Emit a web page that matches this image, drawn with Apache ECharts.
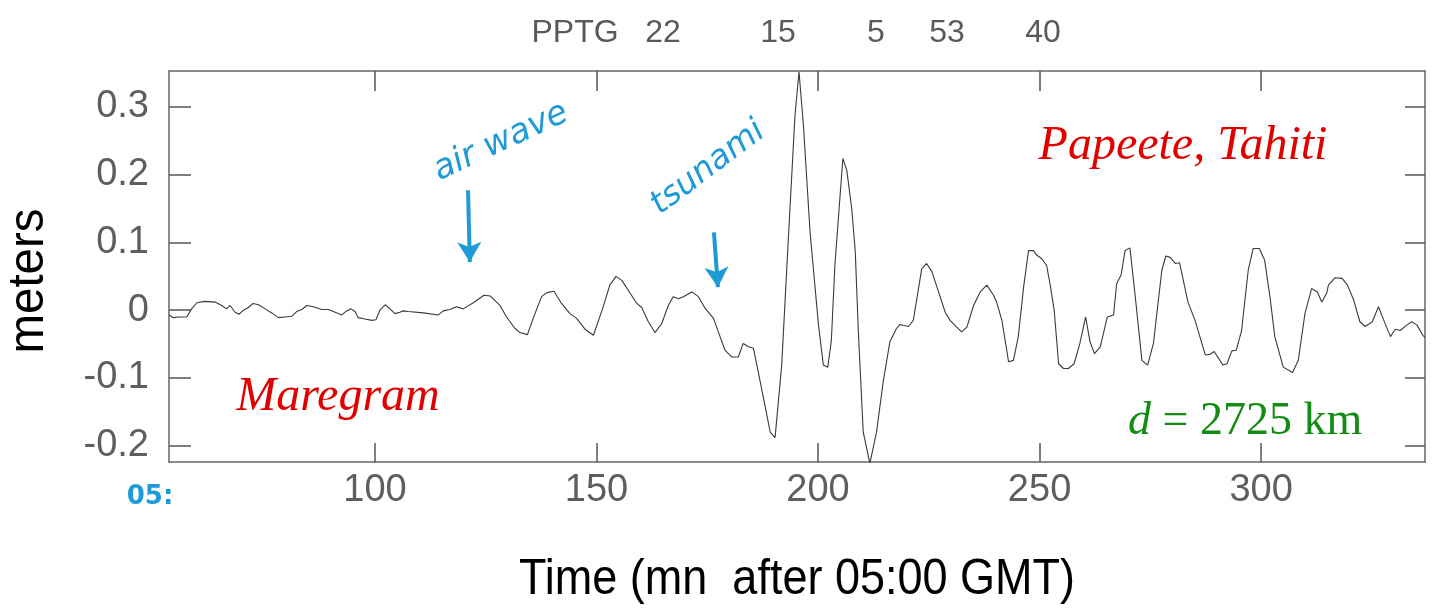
<!DOCTYPE html>
<html>
<head>
<meta charset="utf-8">
<script src="https://cdn.jsdelivr.net/npm/echarts@6/dist/echarts.min.js"></script>
<style>
html,body{margin:0;padding:0;background:#fff;}
#chart{width:1435px;height:608px;}
</style>
</head>
<body>
<div id="chart"></div>
<script>
// Time (minutes after 05:00 GMT)
const timeMin = [
53.5,54.5,55.6,57.5,58.6,59.8,61.6,63.9,65.4,66.5,67.3,68.4,69.3,70.3,71.4,72.5,73.7,75.2,76.7,78.2,
79.7,81.2,82.3,83.5,84.6,86.1,88.0,89.5,91.0,92.5,93.6,94.6,95.5,96.2,97.7,99.3,100.2,101.1,102.3,103.4,
104.5,105.6,106.4,107.5,110.9,114.3,115.4,116.9,118.4,119.9,122.2,124.6,126.0,128.2,129.7,131.6,132.7,134.4,135.7,137.6,
138.8,140.4,142.1,144.0,145.5,147.4,149.3,151.5,153.0,154.4,155.7,157.6,159.1,160.2,161.7,163.2,164.7,166.2,167.3,168.5,
169.6,171.5,173.0,174.5,176.4,177.5,179.0,180.5,182.0,183.1,184.3,185.4,186.5,188.0,189.2,190.3,191.8,193.3,194.8,195.7,
196.7,198.2,200.1,201.2,202.2,203.0,203.8,205.6,206.5,207.6,208.4,209.1,210.2,211.7,213.2,214.7,216.2,217.7,218.5,220.4,
221.5,223.4,224.5,225.7,227.2,228.7,229.8,231.3,232.4,233.6,235.1,236.6,238.1,239.6,240.3,241.5,243.0,244.1,245.2,246.4,
247.5,248.6,249.4,250.5,251.6,252.4,253.3,254.3,255.4,256.5,257.8,259.1,260.4,261.4,262.4,263.7,265.3,266.7,267.4,268.4,
269.3,270.4,271.6,273.1,274.4,275.7,277.6,278.5,279.5,280.6,281.6,283.5,285.1,287.4,288.5,289.4,291.4,292.3,293.4,294.4,
295.6,297.1,298.2,299.6,300.8,302.0,303.1,305.0,307.1,308.4,309.9,311.4,312.7,313.7,314.8,315.2,316.7,318.3,319.5,320.9,
322.3,323.5,325.1,326.5,327.7,329.2,330.3,331.4,332.9,334.0,335.2,336.5,337.0
];
// Sea level (meters)
const seaLevel = [
-0.007,-0.011,-0.010,-0.010,0.002,0.011,0.013,0.012,0.007,0.002,0.007,-0.003,-0.006,0.000,0.004,0.010,0.008,0.002,-0.004,-0.011,
-0.010,-0.009,-0.002,0.001,0.007,0.005,0.001,0.001,-0.003,-0.007,-0.001,0.002,-0.002,-0.011,-0.013,-0.015,-0.014,0.000,0.008,0.002,
-0.005,-0.003,-0.001,-0.002,-0.004,-0.007,-0.001,0.001,0.005,0.002,0.011,0.022,0.021,0.007,-0.010,-0.027,-0.033,-0.036,-0.012,0.020,
0.026,0.028,0.010,-0.005,-0.012,-0.028,-0.037,0.005,0.037,0.050,0.044,0.025,0.010,0.004,-0.017,-0.033,-0.020,0.007,0.020,0.017,
0.020,0.027,0.020,0.003,-0.012,-0.032,-0.059,-0.069,-0.069,-0.049,-0.054,-0.056,-0.091,-0.140,-0.180,-0.188,-0.081,0.106,0.288,0.352,
0.273,0.115,-0.022,-0.081,-0.084,-0.045,0.066,0.224,0.206,0.150,0.087,-0.032,-0.180,-0.226,-0.180,-0.106,-0.047,-0.027,-0.021,-0.024,
-0.015,0.061,0.069,0.057,0.027,-0.003,-0.015,-0.025,-0.032,-0.025,0.007,0.027,0.037,0.022,0.012,-0.015,-0.076,-0.074,-0.039,0.034,
0.088,0.088,0.081,0.076,0.066,0.037,0.000,-0.079,-0.086,-0.086,-0.079,-0.049,-0.010,-0.047,-0.064,-0.054,-0.010,-0.007,0.039,0.052,
0.088,0.092,0.020,-0.074,-0.081,-0.049,0.059,0.080,0.078,0.069,0.070,0.012,-0.015,-0.066,-0.065,-0.061,-0.081,-0.079,-0.060,-0.059,
-0.030,0.059,0.091,0.091,0.074,0.020,-0.039,-0.084,-0.092,-0.074,-0.005,0.032,0.027,0.012,0.025,0.037,0.048,0.047,0.037,0.015,
-0.017,-0.024,-0.017,0.005,-0.015,-0.039,-0.028,-0.030,-0.022,-0.017,-0.022,-0.037,-0.040
];
const xTicks = [100, 150, 200, 250, 300];
const yTicks = [-0.2, -0.1, 0, 0.1, 0.2, 0.3];
const titleTokens = ['PPTG', '22', '15', '5', '53', '40'];
const airWaveArrow = [[121.0, 0.177], [121.4, 0.071]];
const tsunamiArrow = [[176.5, 0.115], [177.4, 0.034]];

const points = timeMin.map((t, i) => [t, seaLevel[i]]);
const titleX = [575, 663, 778, 876, 947, 1043];

const chart = echarts.init(document.getElementById('chart'), null, {renderer: 'canvas'});
const frame = '#666';
const tickFont = 'Liberation Sans, Arial, sans-serif';
const blue = '#1e9ad6';
const labelGray = '#5e5e5e';

const option = {
  backgroundColor: '#ffffff',
  animation: false,
  grid: {left: 169, right: 10, top: 71, bottom: 146, containLabel: false},
  xAxis: [
    {
      type: 'value', min: 53.5, max: 337, position: 'bottom',
      axisLine: {show: true, onZero: false, lineStyle: {color: frame, width: 1.5}},
      axisTick: {show: true, inside: true, length: 19, customValues: xTicks, lineStyle: {color: '#555', width: 1.5}},
      axisLabel: {show: true, customValues: xTicks, margin: 10, color: labelGray, fontSize: 38, fontFamily: tickFont},
      splitLine: {show: false}
    },
    {
      type: 'value', min: 53.5, max: 337, position: 'top',
      axisLine: {show: true, onZero: false, lineStyle: {color: frame, width: 1.5}},
      axisTick: {show: true, inside: true, length: 20, customValues: xTicks, lineStyle: {color: '#555', width: 1.5}},
      axisLabel: {show: false},
      splitLine: {show: false}
    }
  ],
  yAxis: [
    {
      type: 'value', min: -0.224, max: 0.353, position: 'left',
      axisLine: {show: true, onZero: false, lineStyle: {color: frame, width: 1.5}},
      axisTick: {show: true, inside: true, length: 22, customValues: yTicks, lineStyle: {color: '#555', width: 1.5}},
      axisLabel: {show: true, customValues: yTicks, margin: 20, color: labelGray, fontSize: 38, fontFamily: tickFont,
        formatter: v => (Math.abs(v) < 1e-9 ? '0' : v.toFixed(1))},
      splitLine: {show: false}
    },
    {
      type: 'value', min: -0.224, max: 0.353, position: 'right',
      axisLine: {show: true, onZero: false, lineStyle: {color: frame, width: 1.5}},
      axisTick: {show: true, inside: true, length: 20, customValues: yTicks, lineStyle: {color: '#555', width: 1.5}},
      axisLabel: {show: false},
      splitLine: {show: false}
    }
  ],
  series: [
    {
      type: 'line', xAxisIndex: 0, yAxisIndex: 0,
      data: points, showSymbol: false, symbol: 'none', clip: true,
      lineStyle: {color: '#3a3a3a', width: 1.1},
      markLine: {
        silent: true, symbol: ['none', 'arrow'], symbolSize: [18, 20],
        label: {show: false},
        lineStyle: {color: blue, width: 4, type: 'solid'},
        data: [
          [{coord: airWaveArrow[0]}, {coord: airWaveArrow[1]}],
          [{coord: tsunamiArrow[0]}, {coord: tsunamiArrow[1]}]
        ]
      }
    }
  ],
  graphic: [
    ...titleTokens.map((t, i) => ({
      type: 'text', x: titleX[i], y: 33,
      style: {text: t, fill: '#5a5a5a', font: '32px Liberation Sans, Arial, sans-serif', align: 'center', verticalAlign: 'middle'}
    })),
    {type: 'text', x: 797, y: 580, scaleX: 0.9,
      style: {text: 'Time (mn  after 05:00 GMT)', fill: '#000', font: '50px Liberation Sans, Arial, sans-serif', align: 'center', verticalAlign: 'middle'}},
    {type: 'text', x: 29, y: 281, rotation: Math.PI / 2, scaleX: 0.95,
      style: {text: 'meters', fill: '#000', font: '50px Liberation Sans, Arial, sans-serif', align: 'center', verticalAlign: 'middle'}},
    {type: 'text', x: 338, y: 397,
      style: {text: 'Maregram', fill: '#e00000', font: 'italic 48px Liberation Serif, Times New Roman, serif', align: 'center', verticalAlign: 'middle'}},
    {type: 'text', x: 1183, y: 146,
      style: {text: 'Papeete, Tahiti', fill: '#e00000', font: 'italic 48px Liberation Serif, Times New Roman, serif', align: 'center', verticalAlign: 'middle'}},
    {type: 'text', x: 1128, y: 422,
      style: {
        text: '{i|d} = 2725 km', fill: '#148c14', font: '46px Liberation Serif, Times New Roman, serif', align: 'left', verticalAlign: 'middle',
        rich: {i: {fontStyle: 'italic', fontSize: 46, fontFamily: 'Liberation Serif', fill: '#148c14'}}
      }},
    {type: 'text', x: 150, y: 497,
      style: {text: '05:', fill: blue, font: 'bold 26px DejaVu Sans, sans-serif', align: 'center', verticalAlign: 'middle'}},
    {type: 'text', x: 501, y: 142, rotation: 25 * Math.PI / 180,
      style: {text: 'air wave', fill: blue, font: 'italic 34px DejaVu Sans, sans-serif', align: 'center', verticalAlign: 'middle'}},
    {type: 'text', x: 708, y: 168, rotation: 37 * Math.PI / 180,
      style: {text: 'tsunami', fill: blue, font: 'italic 33px DejaVu Sans, sans-serif', align: 'center', verticalAlign: 'middle'}}
  ]
};
chart.setOption(option);
</script>
</body>
</html>
